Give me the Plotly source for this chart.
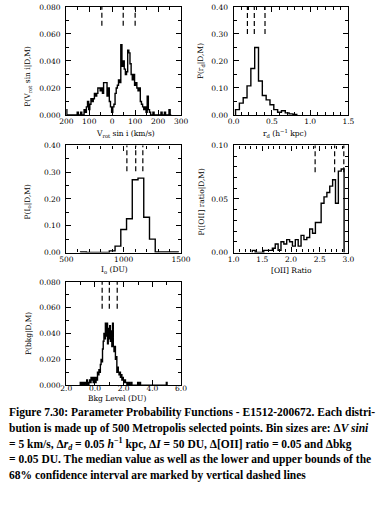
import plotly.graph_objects as go

# ---------------- data ----------------
# Panel 1: V_rot sin i histogram (bin 5 km/s), values for bins centred at VROT_START + i*VROT_BIN
VROT_START, VROT_BIN = -200, 5
vrot_values = [
    0.004, 0, 0, 0, 0, 0, 0, 0, 0, 0,            # -200 .. -155
    0.002, 0, 0, 0.002, 0, 0, 0.004, 0.002, 0.006, 0.010,   # -150 .. -105
    0.004, 0.008, 0.012, 0.010, 0.012, 0.016, 0.014, 0.016, 0.020, 0.020,  # -100 .. -55
    0.018, 0.020, 0.016, 0.024, 0.024, 0.024, 0.014, 0.020, 0.010, 0.006,  # -50 .. -5
    0.002, 0.006, 0.008, 0.016, 0.020, 0.022, 0.026, 0.024, 0.052, 0.036,  # 0 .. 45
    0.040, 0.034, 0.030, 0.032, 0.048, 0.046, 0.038, 0.030, 0.026, 0.030,  # 50 .. 95
    0.022, 0.024, 0.020, 0.018, 0.020, 0.010, 0.008, 0.006, 0.004, 0.006,  # 100 .. 145
    0.002, 0.014, 0.004, 0.002, 0, 0, 0.002, 0, 0, 0,                    # 150 .. 195
    0, 0, 0, 0.002, 0, 0, 0.002, 0, 0, 0, 0.004, 0,                        # 200 .. 255
]
vrot_marks = [-45, 48, 100]

# Panel 2: r_d histogram (bin 0.05)
RD_START, RD_BIN = 0.05, 0.05
rd_values = [0.020, 0.044, 0.064, 0.108, 0.172, 0.250, 0.126, 0.072,
             0.056, 0.038, 0.020, 0.010, 0.016, 0.008, 0.004, 0.002]
rd_marks = [0.18, 0.27, 0.41]

# Panel 3: I_o histogram (bin 50 DU)
IO_START, IO_BIN = 650, 50
io_values = [0.002, 0, 0, 0, 0, 0.006, 0.024, 0.086, 0.126, 0.272,
             0.278, 0.132, 0.050, 0.002, 0.002, 0.002, 0.002]
io_marks = [1028, 1105, 1167]

# Panel 4: [OII] ratio histogram (bin 0.05)
OII_START, OII_BIN = 1.35, 0.05
oii_values = [0.002, 0, 0, 0, 0.002, 0.002, 0.002, 0.004, 0.008, 0.002,
              0.010, 0.008, 0.012, 0.010, 0.006, 0.012, 0.006, 0.016, 0.012, 0.014,
              0.022, 0.018, 0.028, 0.028, 0.046, 0.052, 0.056, 0.062, 0.068, 0.046,
              0.076, 0.078]
oii_marks = [2.42, 2.76, 2.92]

# Panel 5: background level histogram (bin 0.05 DU)
BKG_START, BKG_BIN = -1.00, 0.05
bkg_values = [
    0.002, 0, 0.002, 0, 0.002, 0, 0.002, 0.002, 0, 0.004,        # -1.00 .. -0.55
    0.002, 0, 0.002, 0.004, 0.002, 0.006, 0.004, 0.006, 0.002, 0.006,  # -0.50 .. -0.05
    0.004, 0.002, 0.006, 0.004, 0.010, 0.008, 0.012, 0.010, 0.016, 0.020,  # 0.00 .. 0.45
    0.018, 0.028, 0.034, 0.040, 0.036, 0.048, 0.038, 0.048, 0.032, 0.044,  # 0.50 .. 0.95
    0.036, 0.046, 0.034, 0.042, 0.030, 0.048, 0.030, 0.026, 0.030, 0.020,  # 1.00 .. 1.45
    0.022, 0.010, 0.014, 0.010, 0.008, 0.010, 0.006, 0.008, 0.004, 0.006,  # 1.50 .. 1.95
    0.004, 0.002, 0.004, 0.002, 0.002, 0, 0.002, 0, 0.002, 0,          # 2.00 .. 2.45
    0, 0.002, 0, 0, 0, 0, 0, 0, 0, 0,                                  # 2.50 .. 2.95
    0.002, 0, 0, 0.002, 0, 0, 0, 0, 0, 0,                              # 3.00 .. 3.45
    0, 0, 0, 0, 0, 0, 0, 0, 0, 0,                                      # 3.50 .. 3.95
    0, 0, 0, 0, 0, 0, 0, 0, 0, 0,                                      # 4.00 .. 4.45
    0, 0, 0, 0, 0, 0, 0, 0, 0, 0, 0.002,                               # 4.50 .. 5.00
]
bkg_marks = [0.50, 1.00, 1.55]

# tick labels (as printed in the figure)
vrot_tickvals = [-200, -100, 0, 100, 200, 300]
vrot_ticktext = ["200", "100", "0", "100", "200", "300"]
bkg_tickvals = [-2, 0, 2, 4, 6]
bkg_ticktext = ["2.0", "0.0", "2.0", "4.0", "6.0"]

caption_lines = [
    "Figure 7.30: Parameter Probability Functions - E1512-200672. Each distri-",
    "bution is made up of 500 Metropolis selected points. Bin sizes are: Δ<i>V sini</i>",
    "= 5 km/s, Δ<i>r<sub>d</sub></i> = 0.05 <i>h</i><sup>−1</sup> kpc, Δ<i>I</i> = 50 DU, Δ[OII] ratio = 0.05 and Δbkg",
    "= 0.05 DU. The median value as well as the lower and upper bounds of the",
    "68% confidence interval are marked by vertical dashed lines",
]

# ---------------- figure ----------------
W, H = 389, 508
FONT = "DejaVu Serif"
TFS = 7.5

def step_trace(start, width, values, xa, ya):
    n = len(values)
    edges = [start - width / 2 + i * width for i in range(n + 1)]
    xs = [edges[0]] + edges[:n] + [edges[n]]
    ys = [0] + list(values) + [0]
    return go.Scatter(x=xs, y=ys, mode="lines", line=dict(color="black", width=1.4, shape="hv"),
                      xaxis=xa, yaxis=ya, showlegend=False, hoverinfo="skip")

fig = go.Figure()
fig.add_trace(step_trace(VROT_START, VROT_BIN, vrot_values, "x", "y"))
fig.add_trace(step_trace(RD_START, RD_BIN, rd_values, "x2", "y2"))
fig.add_trace(step_trace(IO_START, IO_BIN, io_values, "x3", "y3"))
fig.add_trace(step_trace(OII_START, OII_BIN, oii_values, "x4", "y4"))
fig.add_trace(step_trace(BKG_START, BKG_BIN, bkg_values, "x5", "y5"))

def px_dom(a, b, total):
    return [a / total, b / total]

def py_dom(top, bottom):
    return [1 - bottom / H, 1 - top / H]

def ax(dom, anchor, rng, minor_dtick, **kw):
    d = dict(domain=dom, anchor=anchor, range=rng, showline=True, linecolor="black", linewidth=1.3,
             mirror="ticks", ticks="inside", ticklen=5, tickwidth=1, tickcolor="black",
             showgrid=False, zeroline=False,
             tickfont=dict(family=FONT, size=TFS, color="black"),
             minor=dict(ticks="inside", ticklen=3, tickwidth=1, tickcolor="black",
                        dtick=minor_dtick, showgrid=False))
    d.update(kw)
    return d

L1, R1 = 62, 182
L2, R2 = 237, 357
row1 = py_dom(3, 113)
row2 = py_dom(144, 253)
row3 = py_dom(283, 388)
XSO = -1   # x tick label standoff
YSO = 3

fig.update_layout(
    width=W, height=H, margin=dict(l=0, r=0, t=0, b=0),
    paper_bgcolor="white", plot_bgcolor="white",
    xaxis=ax(px_dom(L1, R1, W), "y", [-200, 300], 50, tickmode="array",
             tickvals=vrot_tickvals, ticktext=vrot_ticktext, ticklabelstandoff=XSO),
    yaxis=ax(row1, "x", [0, 0.08], 0.01, tickmode="linear", tick0=0, dtick=0.02,
             tickformat=".3f", ticklabelstandoff=YSO),
    xaxis2=ax(px_dom(L2, R2, W), "y2", [0, 1.5], 0.1, tickmode="linear", tick0=0, dtick=0.5,
              tickformat=".1f", ticklabelstandoff=XSO),
    yaxis2=ax(row1, "x2", [0, 0.4], 0.05, tickmode="linear", tick0=0, dtick=0.1,
              tickformat=".2f", ticklabelstandoff=YSO),
    xaxis3=ax(px_dom(L1, R1, W), "y3", [500, 1500], 100, tickmode="linear", tick0=500, dtick=500,
              ticklabelstandoff=XSO),
    yaxis3=ax(row2, "x3", [0, 0.4], 0.05, tickmode="linear", tick0=0, dtick=0.1,
              tickformat=".2f", ticklabelstandoff=YSO),
    xaxis4=ax(px_dom(L2, R2, W), "y4", [1, 3], 0.1, tickmode="linear", tick0=1, dtick=0.5,
              tickformat=".1f", ticklabelstandoff=XSO),
    yaxis4=ax(row2, "x4", [0, 0.1], 0.01, tickmode="linear", tick0=0, dtick=0.05,
              tickformat=".2f", ticklabelstandoff=YSO),
    xaxis5=ax(px_dom(L1, R1, W), "y5", [-2, 6], 1, tickmode="array",
              tickvals=bkg_tickvals, ticktext=bkg_ticktext, ticklabelstandoff=-4),
    yaxis5=ax(row3, "x5", [0, 0.08], 0.01, tickmode="linear", tick0=0, dtick=0.02,
              tickformat=".3f", ticklabelstandoff=YSO),
)

# dashed median / 68% markers
marks = [(vrot_marks, "x", "y", 0.825), (rd_marks, "x2", "y2", 0.75), (io_marks, "x3", "y3", 0.76),
         (oii_marks, "x4", "y4", 0.75), (bkg_marks, "x5", "y5", 0.74)]
for vals, xa, ya, lo in marks:
    for v in vals:
        fig.add_shape(type="line", xref=xa, yref=ya + " domain", x0=v, x1=v, y0=lo, y1=1,
                      line=dict(color="black", width=1.2, dash="5px,3px"))

def ann(text, x, y, angle=0, size=TFS, xanchor="center", family=FONT):
    fig.add_annotation(text=text, x=x / W, y=1 - y / H, xref="paper", yref="paper",
                       showarrow=False, textangle=angle, xanchor=xanchor, yanchor="middle",
                       font=dict(family=family, size=size, color="black"))

# axis titles
ann("P(V<sub>rot</sub> sin i|D,M)", 22, 74, angle=-90)
ann("V<sub>rot</sub> sin i (km/s)", 124, 132)
ann("P(r<sub>d</sub>|D,M)", 203, 58, angle=-90)
ann("r<sub>d</sub> (h<sup>−1</sup> kpc)", 291, 132)
ann("P(I<sub>o</sub>|D,M)", 22, 202, angle=-90)
ann("I<sub>o</sub> (DU)", 112, 271)
ann("P([OII] ratio|D,M)", 203, 201, angle=-90)
ann("[OII] Ratio", 298, 271)
ann("P(bkg|D,M)", 22, 336, angle=-90)
ann("Bkg Level (DU)", 115, 402)

# caption
for i, line in enumerate(caption_lines):
    ann("<b>" + line + "</b>", 0, 416 + 16 * i, size=11.5, xanchor="left", family="Liberation Serif")

fig.write_html("out.html", config={"displayModeBar": False},
               post_script="document.body.style.margin='0';")
